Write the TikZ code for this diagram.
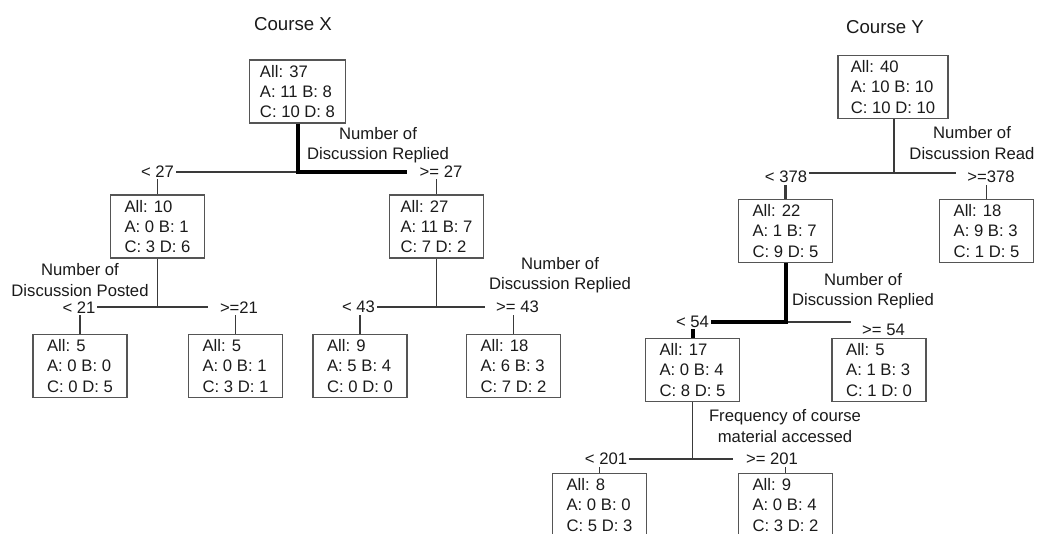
\documentclass[tikz,border=0pt]{standalone}
\usepackage{fontspec}
\setmainfont{Liberation Sans}
\usetikzlibrary{positioning,calc}
\definecolor{boxgray}{HTML}{555555}
\definecolor{linegray}{HTML}{3A3A3A}
\definecolor{textgray}{HTML}{1A1A1A}
\tikzstyle{stat} = [ draw=boxgray, line width=1.1pt, rectangle, align=left, minimum width=70.5pt, minimum height=47.25pt, inner xsep=8pt]
\tikzstyle{attr} = [ align=center, inner sep=0pt]
\tikzstyle{thresh} = [ inner sep=1pt]
\tikzstyle{branch} = [ draw=linegray, line width=1pt]
\tikzstyle{medium} = [ draw=linegray, line width=1.9pt]
\tikzstyle{strong} = [ draw=black, line width=3pt]

\begin{document}
\begin{tikzpicture}[x=0.75pt, y=-0.75pt, text=textgray, font=\fontsize{12.5pt}{15.2pt}\selectfont]
	\clip ( 0, 0 ) rectangle ( 1037, 533 );

	% Course X
	\node[font=\fontsize{14pt}{16pt}\selectfont] (tX) at ( 293, 24 ) {Course X};
	\node[stat] (rootX) at ( 297.5, 91.5 ) {All: 37\\A: 11 B: 8\\C: 10 D: 8};
	\node[stat] (gX1) at ( 157.5, 226.5 ) {All: 10\\A: 0 B: 1\\C: 3 D: 6};
	\node[stat] (gX2) at ( 436.5, 226.5 ) {All: 27\\A: 11 B: 7\\C: 7 D: 2};
	\node[stat] (gX11) at ( 80, 366 ) {All: 5\\A: 0 B: 0\\C: 0 D: 5};
	\node[stat] (gX12) at ( 235.5, 366 ) {All: 5\\A: 0 B: 1\\C: 3 D: 1};
	\node[stat] (gX21) at ( 360, 366 ) {All: 9\\A: 5 B: 4\\C: 0 D: 0};
	\node[stat] (gX22) at ( 513.5, 366 ) {All: 18\\A: 6 B: 3\\C: 7 D: 2};

	\node[attr] (attX) at ( 378, 145 ) {Number of\\Discussion Replied};
	\node[attr] (attX1) at ( 80, 280 ) {Number of\\Discussion Posted};
	\node[attr] (attX2) at ( 560, 275 ) {Number of\\Discussion Replied};

	\node[thresh] (lX1) at ( 157.5, 172 ) {< 27};
	\node[thresh] (lX2) at ( 441, 172 ) {>= 27};
	\node[thresh] (lX11) at ( 79, 308 ) {< 21};
	\node[thresh] (lX12) at ( 239, 308 ) {>=21};
	\node[thresh] (lX21) at ( 358.5, 307 ) {< 43};
	\node[thresh] (lX22) at ( 517.5, 307 ) {>= 43};

	\coordinate (sX) at ( 297.5, 172 );
	\coordinate (sX1) at ( 157.5, 307 );
	\coordinate (sX2) at ( 436.5, 307 );

	\draw[branch] (sX) -- (sX -| lX1.east);
	\draw[strong] (rootX.south) -- (sX) -- ([xshift=-8pt]sX -| lX2.west);
	\draw[branch] (gX1.south) -- (sX1) -- (sX1 -| lX11.east);
	\draw[branch] (sX1) -- ([xshift=-7.5pt]sX1 -| lX12.west);
	\draw[branch] (gX2.south) -- (sX2) -- (sX2 -| lX21.east);
	\draw[medium] (sX2) -- ([xshift=-7.5pt]sX2 -| lX22.west);

	\draw[branch] (gX1.north) -- (gX1.north |- lX1.south);
	\draw[branch] (gX2.north) -- (gX2.north |- lX2.south);
	\draw[branch] (gX11.north) -- (gX11.north |- lX11.south);
	\draw[branch] (gX12.north) -- (gX12.north |- lX12.south);
	\draw[branch] (gX21.north) -- (gX21.north |- lX21.south);
	\draw[branch] (gX22.north) -- (gX22.north |- lX22.south);

	% Course Y
	\node[font=\fontsize{14pt}{16pt}\selectfont] (tY) at ( 885, 27 ) {Course Y};
	\node[stat, minimum width=82.5pt] (rootY) at ( 893, 87 ) {All: 40\\A: 10 B: 10\\C: 10 D: 10};
	\node[stat] (gY1) at ( 785.5, 231 ) {All: 22\\A: 1 B: 7\\C: 9 D: 5};
	\node[stat] (gY2) at ( 986.5, 231 ) {All: 18\\A: 9 B: 3\\C: 1 D: 5};
	\node[stat] (gY11) at ( 692.5, 370 ) {All: 17\\A: 0 B: 4\\C: 8 D: 5};
	\node[stat] (gY12) at ( 879, 370 ) {All: 5\\A: 1 B: 3\\C: 1 D: 0};
	\node[stat] (gY111) at ( 599.5, 505 ) {All: 8\\A: 0 B: 0\\C: 5 D: 3};
	\node[stat] (gY112) at ( 785.5, 505 ) {All: 9\\A: 0 B: 4\\C: 3 D: 2};

	\node[attr] (attY) at ( 972, 143 ) {Number of\\Discussion Read};
	\node[attr] (attY1) at ( 863, 291 ) {Number of\\Discussion Replied};
	\node[attr] (attY11) at ( 785, 426 ) {Frequency of course\\material accessed};

	\node[thresh] (lY1) at ( 786, 177 ) {< 378};
	\node[thresh] (lY2) at ( 991, 177 ) {>=378};
	\node[thresh] (lY11) at ( 692.5, 322 ) {< 54};
	\node[thresh] (lY12) at ( 883.5, 330 ) {>= 54};
	\node[thresh] (lY111) at ( 606, 459 ) {< 201};
	\node[thresh] (lY112) at ( 772, 459 ) {>= 201};

	\coordinate (sY) at ( 894, 173 );
	\coordinate (sY1) at ( 785.5, 322 );
	\coordinate (sY11) at ( 692.5, 459 );

	\draw[branch] (sY) -- ([xshift=-7pt]sY -| lY2.west);
	\draw[medium] (rootY.south -| sY) -- (sY) -- (sY -| lY1.east);
	\draw[branch] (sY1) -- ([xshift=-7.5pt]sY1 -| lY12.west);
	\draw[strong] (gY1.south) -- (sY1) -- (sY1 -| lY11.east);
	\draw[branch] (gY11.south) -- (sY11) -- (sY11 -| lY111.east);
	\draw[branch] (sY11) -- ([xshift=-8.5pt]sY11 -| lY112.west);

	\draw[medium] (gY1.north) -- (gY1.north |- lY1.south);
	\draw[branch] (gY2.north) -- (gY2.north |- lY2.south);
	\draw[strong] (gY11.north) -- (gY11.north |- lY11.south);
	\draw[branch] (gY111.north) -- (gY111.north |- lY111.south);
	\draw[branch] (gY112.north) -- (gY112.north |- lY112.south);
\end{tikzpicture}
\end{document}
